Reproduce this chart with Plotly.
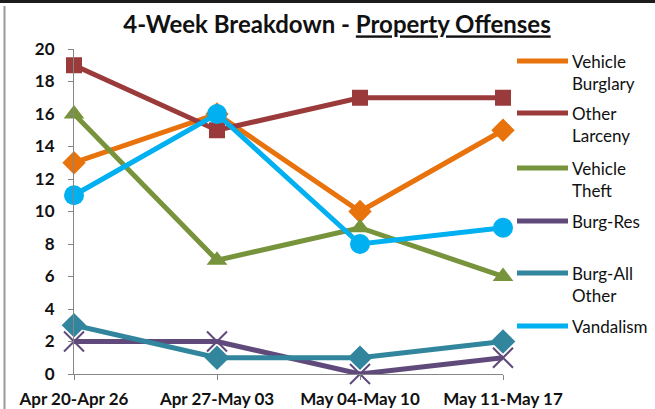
import plotly.graph_objects as go

weeks = ["Apr 20-Apr 26", "Apr 27-May 03", "May 04-May 10", "May 11-May 17"]

vehicle_burglary = [13, 16, 10, 15]
other_larceny = [19, 15, 17, 17]
vehicle_theft = [16, 7, 9, 6]
burg_res = [2, 2, 0, 1]
burg_all_other = [3, 1, 1, 2]
vandalism = [11, 16, 8, 9]

y_ticks = [0, 2, 4, 6, 8, 10, 12, 14, 16, 18, 20]

series = [
    ("Vehicle<br>Burglary", vehicle_burglary, "#E8720C", "diamond", 18),
    ("Other<br>Larceny", other_larceny, "#9B3A3A", "square", 16),
    ("Vehicle<br>Theft", vehicle_theft, "#77933C", "triangle-up", 18),
    ("Burg-Res", burg_res, "#604A7B", "x-thin", 20),
    ("Burg-All<br>Other", burg_all_other, "#31859C", "diamond", 19),
    ("Vandalism", vandalism, "#00B0F0", "circle", 20),
]

W, H = 655, 409
L, R, T, B = 74, 152, 49, 35
plot_w = W - L - R
plot_h = H - T - B


def px_to_paper_x(px):
    return (px - L) / plot_w


def px_to_paper_y(py):
    return (H - B - py) / plot_h


def px_to_data_x(px):
    return (len(weeks) - 1) * px_to_paper_x(px)


def px_to_data_y(py):
    return 20 * px_to_paper_y(py)


fig = go.Figure()
xs = list(range(len(weeks)))

for name, vals, color, sym, size in series:
    is_x = sym == "x-thin"
    fig.add_trace(go.Scatter(
        x=xs, y=vals, mode="lines+markers", name=name, showlegend=False,
        line=dict(color=color, width=5),
        marker=dict(symbol=sym, size=size, color=color,
                    line=dict(color=color, width=2 if is_x else 0)),
        cliponaxis=False,
    ))

# legend drawn beside the plot area
legend_y = [61, 113, 168, 221, 273, 326]
shapes = []
annotations = []
for (name, vals, color, sym, size), ly in zip(series, legend_y):
    shapes.append(dict(type="line", xref="paper", yref="paper",
                       x0=px_to_paper_x(517), x1=px_to_paper_x(568),
                       y0=px_to_paper_y(ly), y1=px_to_paper_y(ly),
                       line=dict(color=color, width=5)))
    is_x = sym == "x-thin"
    fig.add_trace(go.Scatter(
        x=[px_to_data_x(542)], y=[px_to_data_y(ly)], mode="markers",
        showlegend=False, hoverinfo="skip", cliponaxis=False,
        marker=dict(symbol=sym, size=8, color=color,
                    line=dict(color=color, width=2 if is_x else 0)),
    ))
    annotations.append(dict(
        text=name, xref="paper", yref="paper",
        x=px_to_paper_x(570), y=px_to_paper_y(ly - 12),
        xanchor="left", yanchor="top", align="left", showarrow=False,
        font=dict(family="Lato", size=17, color="#111111"),
    ))

# outer frame edges
shapes.append(dict(type="rect", xref="paper", yref="paper",
                   x0=px_to_paper_x(0), x1=px_to_paper_x(W),
                   y0=px_to_paper_y(3), y1=px_to_paper_y(0),
                   fillcolor="#1c1c1c", line=dict(width=0)))
shapes.append(dict(type="line", xref="paper", yref="paper",
                   x0=px_to_paper_x(4.5), x1=px_to_paper_x(4.5),
                   y0=px_to_paper_y(6), y1=px_to_paper_y(H),
                   line=dict(color="#9a9a9a", width=2)))

fig.update_layout(
    width=W, height=H,
    margin=dict(l=L, r=R, t=T, b=B, pad=0, autoexpand=False),
    paper_bgcolor="white", plot_bgcolor="white",
    title=dict(
        text="<b>4-Week Breakdown - <u>Property Offenses</u></b>",
        x=337 / W, xref="container", xanchor="center",
        y=1 - 25 / H, yref="container", yanchor="middle",
        font=dict(family="Lato", size=24, color="#111111"),
        automargin=False,
    ),
    xaxis=dict(
        range=[0, len(weeks) - 1], tickvals=xs, ticktext=weeks,
        showgrid=False, zeroline=False, showline=True,
        linecolor="#868686", linewidth=1,
        ticks="outside", ticklen=5, tickcolor="#868686",
        ticklabelstandoff=5, automargin=False,
        tickfont=dict(family="Lato", size=17, color="#111111", weight="bold"),
        fixedrange=True,
    ),
    yaxis=dict(
        range=[0, 20], tickvals=y_ticks,
        showgrid=False, zeroline=False, showline=True,
        linecolor="#868686", linewidth=1,
        ticks="outside", ticklen=5, tickcolor="#868686",
        ticklabelstandoff=10, automargin=False,
        tickfont=dict(family="Lato", size=17, color="#111111", weight="bold"),
        fixedrange=True,
    ),
    shapes=shapes,
    annotations=annotations,
    showlegend=False,
)

fig.write_html("out.html")
